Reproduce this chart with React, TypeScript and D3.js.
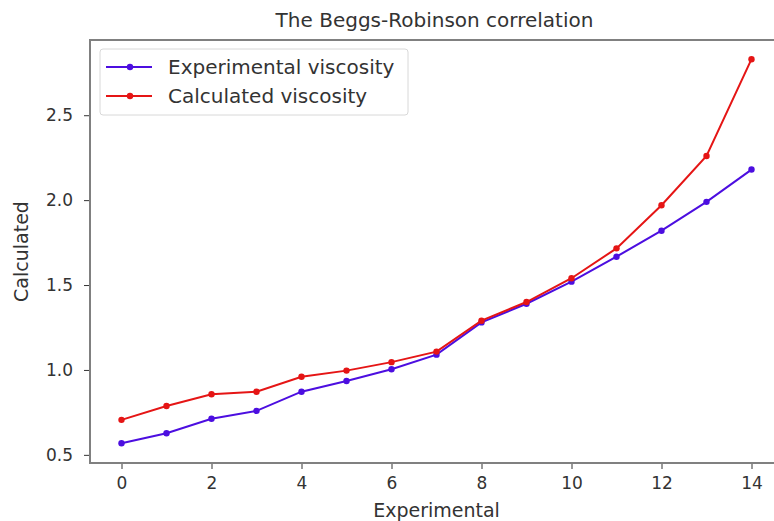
import React, { useEffect, useRef } from "react";
import * as d3 from "d3";

const xTicks = [0, 2, 4, 6, 8, 10, 12, 14];
const yTicks = [0.5, 1.0, 1.5, 2.0, 2.5];
const experimental = [0.568, 0.627, 0.713, 0.759, 0.872, 0.935, 1.004, 1.09, 1.28, 1.39, 1.52, 1.667, 1.82, 1.99, 2.18];
const calculated = [0.706, 0.788, 0.857, 0.872, 0.96, 0.996, 1.046, 1.108, 1.29, 1.4, 1.54, 1.716, 1.97, 2.26, 2.83];
const seriesNames = ["Experimental viscosity", "Calculated viscosity"];
const seriesColors = ["#4c0ee0", "#e51515"];

const W = 774;
const H = 521;
const FONT = "'DejaVu Sans', sans-serif";

export default function App() {
  const ref = useRef<SVGSVGElement>(null);

  useEffect(() => {
    const svg = d3.select(ref.current);
    svg.selectAll("*").remove();

    // axes box, in pixels; right side runs off the picture like the reference
    const left = 90, right = 783, top = 40, bottom = 463;

    const x = d3.scaleLinear().domain([-0.7, 14.7]).range([left, right]);
    const y = d3.scaleLinear().domain([0.452, 2.943]).range([bottom, top]);

    svg.append("rect")
      .attr("width", W).attr("height", H).attr("fill", "white");

    const xAxis = svg.append("g")
      .attr("transform", `translate(0,${bottom})`)
      .call(d3.axisBottom(x).tickValues(xTicks).tickFormat(d3.format("d")).tickSize(6).tickPadding(8));
    const yAxis = svg.append("g")
      .attr("transform", `translate(${left},0)`)
      .call(d3.axisLeft(y).tickValues(yTicks).tickFormat(d3.format(".1f")).tickSize(6).tickPadding(11));

    [xAxis, yAxis].forEach(a => {
      a.select(".domain").remove();
      a.selectAll("line").attr("stroke", "#333").attr("stroke-width", 1);
      a.selectAll("text")
        .attr("fill", "#333")
        .attr("font-family", FONT)
        .attr("font-size", 17);
    });

    // frame
    svg.append("rect")
      .attr("x", left).attr("y", top)
      .attr("width", right - left).attr("height", bottom - top)
      .attr("fill", "none")
      .attr("stroke", "#808080")
      .attr("stroke-width", 2);

    const line = d3.line<number>()
      .x((_, i) => x(i))
      .y(d => y(d));

    [experimental, calculated].forEach((data, k) => {
      svg.append("path")
        .datum(data)
        .attr("d", line)
        .attr("fill", "none")
        .attr("stroke", seriesColors[k])
        .attr("stroke-width", 2);
      svg.append("g").selectAll("circle")
        .data(data)
        .join("circle")
        .attr("cx", (_, i) => x(i))
        .attr("cy", d => y(d))
        .attr("r", 3.2)
        .attr("fill", seriesColors[k]);
    });

    // title and axis labels
    svg.append("text")
      .attr("x", (left + right) / 2 - 2).attr("y", 27)
      .attr("text-anchor", "middle")
      .attr("font-family", FONT).attr("font-size", 20).attr("fill", "#333")
      .text("The Beggs-Robinson correlation");
    svg.append("text")
      .attr("x", (left + right) / 2).attr("y", 517)
      .attr("text-anchor", "middle")
      .attr("font-family", FONT).attr("font-size", 19).attr("fill", "#333")
      .text("Experimental");
    svg.append("text")
      .attr("transform", `translate(28,${(top + bottom) / 2}) rotate(-90)`)
      .attr("text-anchor", "middle")
      .attr("font-family", FONT).attr("font-size", 19).attr("fill", "#333")
      .text("Calculated");

    // legend
    const lg = svg.append("g").attr("transform", "translate(100,49)");
    lg.append("rect")
      .attr("width", 308).attr("height", 66).attr("rx", 3)
      .attr("fill", "white").attr("stroke", "#d8d8d8");
    seriesNames.forEach((name, k) => {
      const yy = 18 + k * 29;
      lg.append("line")
        .attr("x1", 6).attr("x2", 52).attr("y1", yy).attr("y2", yy)
        .attr("stroke", seriesColors[k]).attr("stroke-width", 2);
      lg.append("circle")
        .attr("cx", 30).attr("cy", yy).attr("r", 3.2).attr("fill", seriesColors[k]);
      lg.append("text")
        .attr("x", 68).attr("y", yy).attr("dy", "0.35em")
        .attr("font-family", FONT).attr("font-size", 20).attr("fill", "#333")
        .text(name);
    });
  }, []);

  return (
    <svg ref={ref} width={W} height={H}
      style={{ position: "absolute", left: 0, top: 0, display: "block" }} />
  );
}
